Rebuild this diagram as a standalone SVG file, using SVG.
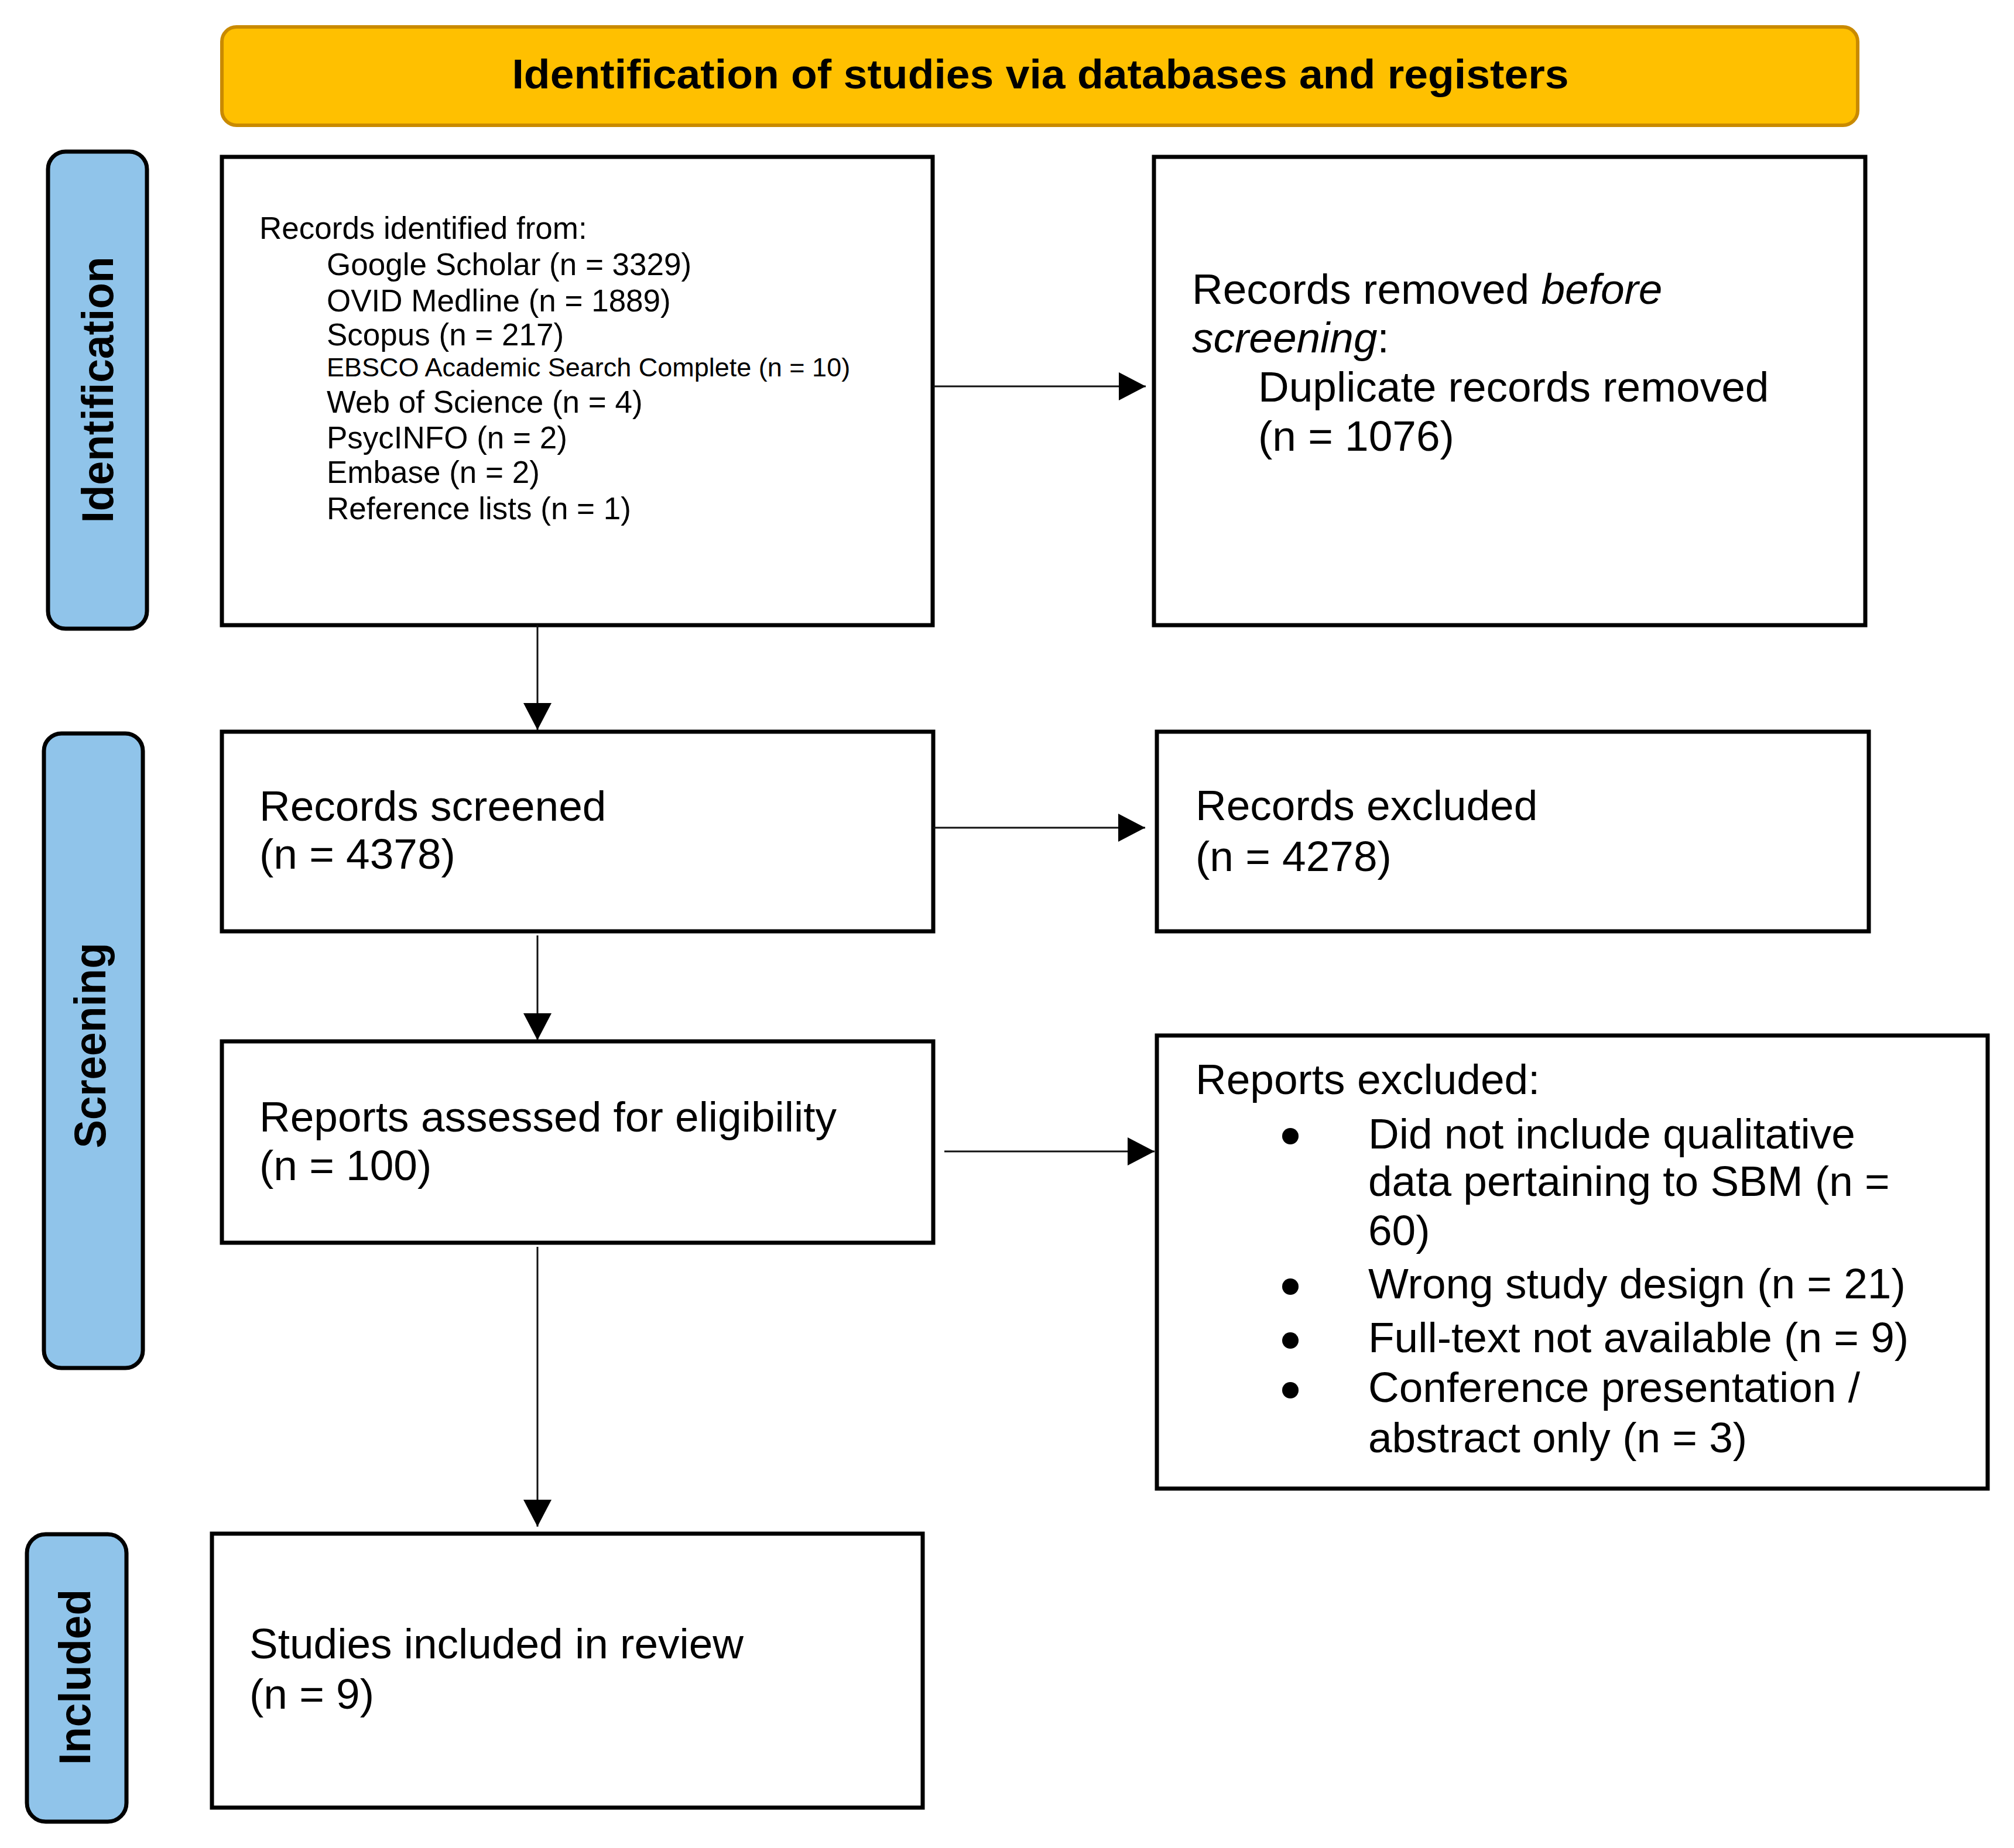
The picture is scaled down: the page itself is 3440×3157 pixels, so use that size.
<svg xmlns="http://www.w3.org/2000/svg" width="3440" height="3157" viewBox="0 0 3440 3157">
  <defs>
    <marker id="arrow" viewBox="0 0 46 48" refX="46" refY="24" markerWidth="46" markerHeight="48" markerUnits="userSpaceOnUse" orient="auto">
      <path d="M0,0 L46,24 L0,48 z" fill="#000"/>
    </marker>
    <style>
      .box { fill: #fff; stroke: #000; stroke-width: 7; }
      .phase { fill: #90C4EA; stroke: #000; stroke-width: 7; }
      .header { fill: #FFC000; stroke: #C98A00; stroke-width: 6; }
      .t { font-family: "Liberation Sans", Arial, sans-serif; font-size: 73px; fill: #000; }
      .s { font-family: "Liberation Sans", Arial, sans-serif; font-size: 53px; fill: #000; }
      .xs { font-family: "Liberation Sans", Arial, sans-serif; font-size: 45px; fill: #000; }
      .b { font-family: "Liberation Sans", Arial, sans-serif; font-weight: bold; fill: #000; }
      .conn { fill: none; stroke: #111; stroke-width: 3; marker-end: url(#arrow); }
    </style>
  </defs>
  <rect width="3440" height="3157" fill="#fff"/>

  <g id="header">
    <rect class="header" x="379" y="46" width="2794" height="168" rx="25" ry="25"/>
    <text class="b" x="1777" y="151" font-size="71" text-anchor="middle" textLength="1805" lengthAdjust="spacingAndGlyphs">Identification of studies via databases and registers</text>
  </g>

  <g id="phase-identification">
    <rect class="phase" x="82" y="259" width="169" height="815" rx="30" ry="30"/>
    <text class="b" font-size="76" text-anchor="middle" transform="translate(193,666) rotate(-90)" textLength="455" lengthAdjust="spacingAndGlyphs">Identification</text>
  </g>
  <g id="phase-screening">
    <rect class="phase" x="75" y="1253" width="169" height="1084" rx="30" ry="30"/>
    <text class="b" font-size="76" text-anchor="middle" transform="translate(180,1786) rotate(-90)" textLength="351" lengthAdjust="spacingAndGlyphs">Screening</text>
  </g>
  <g id="phase-included">
    <rect class="phase" x="46" y="2621" width="170" height="491" rx="32" ry="32"/>
    <text class="b" font-size="76" text-anchor="middle" transform="translate(154,2865) rotate(-90)" textLength="300" lengthAdjust="spacingAndGlyphs">Included</text>
  </g>

  <g id="records-identified">
    <rect class="box" x="379" y="268" width="1214" height="800"/>
    <text class="s" x="443" y="408">Records identified from:</text>
    <text class="s" x="558" y="470">Google Scholar (n = 3329)</text>
    <text class="s" x="558" y="532">OVID Medline (n = 1889)</text>
    <text class="s" x="558" y="590">Scopus (n = 217)</text>
    <text class="xs" x="558" y="643">EBSCO Academic Search Complete (n = 10)</text>
    <text class="s" x="558" y="705">Web of Science (n = 4)</text>
    <text class="s" x="558" y="766">PsycINFO (n = 2)</text>
    <text class="s" x="558" y="825">Embase (n = 2)</text>
    <text class="s" x="558" y="887">Reference lists (n = 1)</text>
  </g>

  <g id="records-removed">
    <rect class="box" x="1971" y="268" width="1215" height="800"/>
    <text class="t" x="2036" y="519">Records removed <tspan font-style="italic">before</tspan></text>
    <text class="t" x="2036" y="602"><tspan font-style="italic">screening</tspan>:</text>
    <text class="t" x="2149" y="686">Duplicate records removed</text>
    <text class="t" x="2149" y="770">(n = 1076)</text>
  </g>

  <g id="records-screened">
    <rect class="box" x="379" y="1250" width="1215" height="341"/>
    <text class="t" x="443" y="1402">Records screened</text>
    <text class="t" x="443" y="1484">(n = 4378)</text>
  </g>

  <g id="records-excluded">
    <rect class="box" x="1976" y="1250" width="1216" height="341"/>
    <text class="t" x="2042" y="1401">Records excluded</text>
    <text class="t" x="2042" y="1488">(n = 4278)</text>
  </g>

  <g id="reports-assessed">
    <rect class="box" x="379" y="1779" width="1215" height="344"/>
    <text class="t" x="443" y="1933">Reports assessed for eligibility</text>
    <text class="t" x="443" y="2016">(n = 100)</text>
  </g>

  <g id="reports-excluded">
    <rect class="box" x="1976" y="1769" width="1419" height="774"/>
    <text class="t" x="2042" y="1869">Reports excluded:</text>
    <circle cx="2204" cy="1941" r="14"/>
    <text class="t" x="2337" y="1962">Did not include qualitative</text>
    <text class="t" x="2337" y="2043">data pertaining to SBM (n =</text>
    <text class="t" x="2337" y="2127">60)</text>
    <circle cx="2204" cy="2198" r="14"/>
    <text class="t" x="2337" y="2218">Wrong study design (n = 21)</text>
    <circle cx="2204" cy="2290" r="14"/>
    <text class="t" x="2337" y="2310">Full-text not available (n = 9)</text>
    <circle cx="2204" cy="2375" r="14"/>
    <text class="t" x="2337" y="2395">Conference presentation /</text>
    <text class="t" x="2337" y="2481">abstract only (n = 3)</text>
  </g>

  <g id="studies-included">
    <rect class="box" x="362" y="2620" width="1214" height="468"/>
    <text class="t" x="426" y="2833">Studies included in review</text>
    <text class="t" x="426" y="2919">(n = 9)</text>
  </g>

  <g id="connectors">
    <path class="conn" d="M1594,660 H1957"/>
    <path class="conn" d="M918,1068 V1247"/>
    <path class="conn" d="M1594,1414 H1956"/>
    <path class="conn" d="M918,1598 V1777"/>
    <path class="conn" d="M1613,1967 H1972"/>
    <path class="conn" d="M918,2130 V2608"/>
  </g>
</svg>
